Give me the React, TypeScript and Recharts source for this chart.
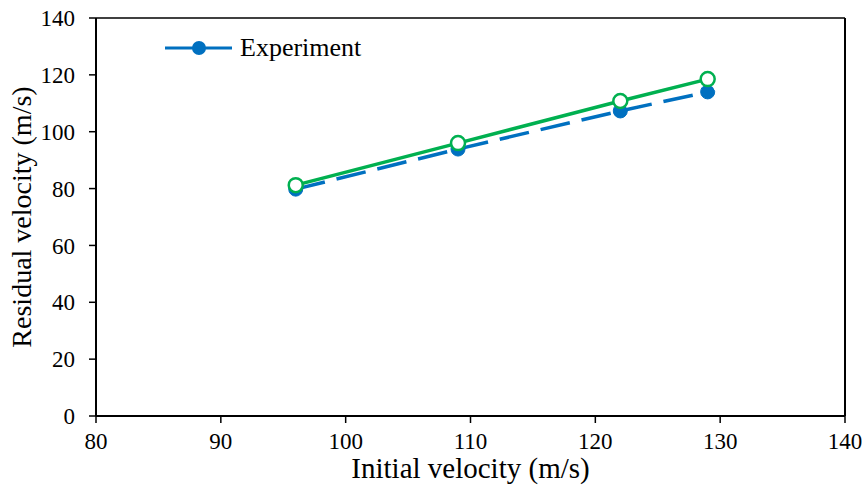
import React from 'react';
import { LineChart, Line, XAxis, YAxis, ReferenceLine } from 'recharts';

const initialVelocity = [96, 109, 122, 129];
const experiment = [79.8, 93.9, 107.3, 114.0];
const simulation = [81.2, 96.0, 110.8, 118.5];
const xTicks = [80, 90, 100, 110, 120, 130, 140];
const yTicks = [0, 20, 40, 60, 80, 100, 120, 140];

const BLUE = '#0070C0';
const GREEN = '#00B050';
const FONT = '"Liberation Serif", "Times New Roman", serif';

const data = initialVelocity.map((v, i) => ({
  v,
  experiment: experiment[i],
  simulation: simulation[i],
}));

function LegendBox() {
  return (
    <svg width={240} height={30} style={{ position: 'absolute', left: 164, top: 33 }}>
      <line x1={1} y1={15} x2={68} y2={15} stroke={BLUE} strokeWidth={3} />
      <circle cx={35} cy={15} r={7} fill={BLUE} />
      <text x={76} y={23} fontFamily={FONT} fontSize={26} fill='#000'>
        Experiment
      </text>
    </svg>
  );
}

export default function App() {
  return (
    <div style={{ position: 'absolute', left: 0, top: 0, width: 866, height: 488, background: '#fff' }}>
      <LineChart
        width={866}
        height={488}
        data={data}
        margin={{ top: 18, right: 21, bottom: 0, left: 0 }}
      >
        <XAxis
          dataKey='v'
          type='number'
          domain={[80, 140]}
          ticks={xTicks}
          height={72}
          stroke='#000'
          tickLine={{ stroke: '#000', strokeWidth: 1.5 }}
          axisLine={{ stroke: '#000', strokeWidth: 2 }}
          tickSize={7}
          tickMargin={10}
          tick={{ fill: '#000', fontSize: 23, fontFamily: FONT }}
          label={{
            value: 'Initial velocity (m/s)',
            position: 'insideBottom',
            offset: 10,
            fill: '#000',
            fontSize: 29,
            fontFamily: FONT,
          }}
        />
        <YAxis
          type='number'
          domain={[0, 140]}
          ticks={yTicks}
          width={96}
          stroke='#000'
          tickLine={{ stroke: '#000', strokeWidth: 1.5 }}
          axisLine={{ stroke: '#000', strokeWidth: 2 }}
          tickSize={7}
          tickMargin={14}
          tick={{ fill: '#000', fontSize: 23, fontFamily: FONT }}
          label={{
            value: 'Residual velocity (m/s)',
            angle: -90,
            position: 'insideLeft',
            offset: 21,
            style: { textAnchor: 'middle' },
            fill: '#000',
            fontSize: 28,
            fontFamily: FONT,
          }}
        />
        <ReferenceLine x={140} stroke='#000' strokeWidth={2} />
        <ReferenceLine y={140} stroke='#000' strokeWidth={1.5} />
        <Line
          dataKey='experiment'
          stroke={BLUE}
          strokeWidth={3.5}
          strokeDasharray='30 12'
          dot={{ r: 7, fill: BLUE, stroke: BLUE, strokeWidth: 1 }}
          isAnimationActive={false}
        />
        <Line
          dataKey='simulation'
          stroke={GREEN}
          strokeWidth={3.5}
          dot={{ r: 7, fill: '#fff', stroke: GREEN, strokeWidth: 2.5 }}
          legendType='none'
          isAnimationActive={false}
        />
      </LineChart>
      <LegendBox />
    </div>
  );
}
